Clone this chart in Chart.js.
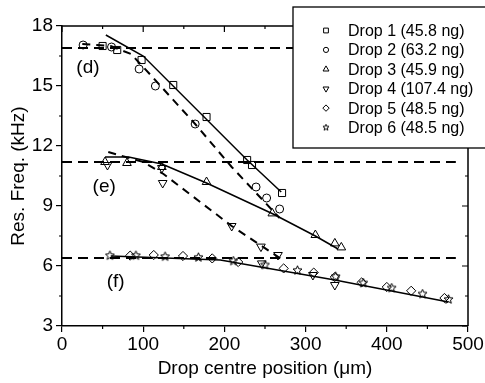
<!DOCTYPE html>
<html><head><meta charset="utf-8">
<script src="https://cdn.jsdelivr.net/npm/chart.js@4.4.1/dist/chart.umd.min.js"></script>
<style>html,body{margin:0;padding:0;background:#fff;}</style>
</head><body>
<canvas id="c" width="485" height="383"></canvas>
<script>
// ---- data ----
const drop1X = [50, 68, 98, 137, 178, 228, 234, 271];
const drop1Y = [17.0, 16.8, 16.3, 15.05, 13.45, 11.3, 11.05, 9.65];
const drop2X = [26, 61, 95, 115, 164, 239, 252, 268];
const drop2Y = [17.05, 16.95, 15.85, 15.0, 13.1, 9.95, 9.4, 8.85];
const drop3X = [53, 80, 123, 178, 259, 312, 336, 344];
const drop3Y = [11.2, 11.15, 10.95, 10.2, 8.63, 7.55, 7.13, 6.93];
const drop4X = [56, 123, 124, 209, 245, 266, 246, 309, 336];
const drop4Y = [11.05, 10.9, 10.15, 8.0, 6.97, 6.55, 6.13, 5.55, 5.05];
const drop5X = [84, 113, 149, 185, 217, 273, 310, 336, 369, 400, 430, 471];
const drop5Y = [6.52, 6.55, 6.5, 6.38, 6.2, 5.88, 5.67, 5.45, 5.18, 4.95, 4.76, 4.4];
const drop6X = [59, 91, 127, 168, 211, 250, 290, 337, 371, 406, 444, 476];
const drop6Y = [6.52, 6.52, 6.47, 6.43, 6.25, 6.05, 5.78, 5.47, 5.15, 4.9, 4.6, 4.33];

const fitDSolidX = [54, 100, 228, 270];
const fitDSolidY = [17.55, 16.5, 11.3, 9.7];
const fitDDashX = [25, 60, 85, 108, 164, 209, 268];
const fitDDashY = [17.1, 17.0, 16.6, 15.6, 13.1, 10.95, 8.4];
const fitESolidX = [53, 82, 123, 178, 260, 312, 340];
const fitESolidY = [11.45, 11.45, 11.1, 10.15, 8.6, 7.5, 6.85];
const fitEDashX = [57, 100, 125, 209, 270];
const fitEDashY = [11.7, 11.2, 10.6, 8.0, 6.35];
const fitFSolidX = [60, 195, 336, 476];
const fitFSolidY = [6.5, 6.3, 5.3, 4.2];

const refLevels = [16.9, 11.2, 6.4];
const refSpanX = [0, 485];

const legendLabels = ['Drop 1 (45.8 ng)', 'Drop 2 (63.2 ng)', 'Drop 3 (45.9 ng)',
                      'Drop 4 (107.4 ng)', 'Drop 5 (48.5 ng)', 'Drop 6 (48.5 ng)'];
const groupLabels = ['(d)', '(e)', '(f)'];
const groupLabelX = [32, 52, 66];
const groupLabelY = [15.9, 9.95, 5.2];

const xTicks = [0, 100, 200, 300, 400, 500];
const yTicks = [3, 6, 9, 12, 15, 18];
const xMinor = [50, 150, 250, 350, 450];
const yMinor = [4.5, 7.5, 10.5, 13.5, 16.5];

const FONT = '"Liberation Sans", Arial, sans-serif';

function zip(xs, ys){ return xs.map((x,i)=>({x:x, y:ys[i]})); }

function makeStar(size){
  const c = document.createElement('canvas');
  c.width = size; c.height = size;
  const g = c.getContext('2d');
  const cx = size/2, cy = size/2, R = size/2 - 0.8, r = R*0.45;
  g.beginPath();
  for (let i=0;i<10;i++){
    const a = -Math.PI/2 + i*Math.PI/5;
    const rr = (i%2===0)?R:r;
    const px = cx + rr*Math.cos(a), py = cy + rr*Math.sin(a);
    if (i===0) g.moveTo(px,py); else g.lineTo(px,py);
  }
  g.closePath();
  g.lineWidth = 1; g.strokeStyle = '#000'; g.stroke();
  return c;
}
const starBig = makeStar(11);
const starSmall = makeStar(8);

const markerStyles = [
  {pointStyle:'rect', rotation:0, radius:5, legendRadius:3.4},
  {pointStyle:'circle', rotation:0, radius:4, legendRadius:2.6},
  {pointStyle:'triangle', rotation:0, radius:5, legendRadius:3.4},
  {pointStyle:'triangle', rotation:180, radius:5, legendRadius:3.4},
  {pointStyle:'rectRot', rotation:0, radius:4.6, legendRadius:3.2},
  {pointStyle:starBig, rotation:0, radius:5, legendRadius:4}
];
const dropXs = [drop1X, drop2X, drop3X, drop4X, drop5X, drop6X];
const dropYs = [drop1Y, drop2Y, drop3Y, drop4Y, drop5Y, drop6Y];

const datasets = [];
function lineSet(xs, ys, dash, width){
  return {data: zip(xs, ys), showLine:true, borderColor:'#000', borderWidth:width,
          borderDash: dash, pointRadius:0, pointHoverRadius:0, fill:false, tension:0};
}
datasets.push(lineSet(fitDSolidX, fitDSolidY, [], 1.5));
datasets.push(lineSet(fitDDashX, fitDDashY, [8,6], 2));
datasets.push(lineSet(fitESolidX, fitESolidY, [], 1.5));
datasets.push(lineSet(fitEDashX, fitEDashY, [8,6], 2));
datasets.push(lineSet(fitFSolidX, fitFSolidY, [], 1.5));
refLevels.forEach(v => datasets.push(lineSet(refSpanX, [v, v], [10,6], 2)));
for (let i=0;i<6;i++){
  const m = markerStyles[i];
  datasets.push({label: legendLabels[i], data: zip(dropXs[i], dropYs[i]), showLine:false,
    pointStyle: m.pointStyle, rotation: m.rotation, pointRadius: m.radius,
    pointBorderColor:'#000', pointBackgroundColor:'rgba(0,0,0,0)', pointBorderWidth:1,
    borderColor:'#000', backgroundColor:'rgba(0,0,0,0)'});
}

const decor = {
  id: 'decor',
  afterDraw(chart){
    const ctx = chart.ctx, a = chart.chartArea;
    const xs = chart.scales.x, ys = chart.scales.y;
    ctx.save();
    ctx.strokeStyle = '#000'; ctx.lineWidth = 1.5;
    // top & right axis lines
    ctx.beginPath();
    ctx.moveTo(a.left, a.top); ctx.lineTo(a.right, a.top); ctx.lineTo(a.right, a.bottom);
    ctx.stroke();
    ctx.lineWidth = 1.2;
    ctx.beginPath();
    xTicks.forEach(v=>{ const p = xs.getPixelForValue(v); ctx.moveTo(p, a.top); ctx.lineTo(p, a.top+6); });
    xMinor.forEach(v=>{ const p = xs.getPixelForValue(v);
      ctx.moveTo(p, a.top); ctx.lineTo(p, a.top+3);
      ctx.moveTo(p, a.bottom); ctx.lineTo(p, a.bottom+3); });
    yTicks.forEach(v=>{ const p = ys.getPixelForValue(v); ctx.moveTo(a.right, p); ctx.lineTo(a.right-6, p); });
    yMinor.forEach(v=>{ const p = ys.getPixelForValue(v);
      ctx.moveTo(a.right, p); ctx.lineTo(a.right-3, p);
      ctx.moveTo(a.left, p); ctx.lineTo(a.left-3, p); });
    ctx.stroke();
    // group labels
    ctx.fillStyle = '#000';
    ctx.font = '19px ' + FONT;
    ctx.textAlign = 'center'; ctx.textBaseline = 'middle';
    groupLabels.forEach((t,i)=>{
      ctx.fillText(t, xs.getPixelForValue(groupLabelX[i]), ys.getPixelForValue(groupLabelY[i]));
    });
    // legend box
    const bx = 293, by = 7, bw = 200, bh = 141;
    ctx.fillStyle = '#fff';
    ctx.fillRect(bx, by, bw, bh);
    ctx.lineWidth = 1.3; ctx.strokeStyle = '#000';
    ctx.strokeRect(bx, by, bw, bh);
    ctx.font = '16px ' + FONT;
    ctx.textAlign = 'left'; ctx.textBaseline = 'middle';
    for (let i=0;i<6;i++){
      const yy = 30.5 + i*19.4;
      const m = markerStyles[i];
      ctx.lineWidth = 1; ctx.strokeStyle = '#000'; ctx.fillStyle = 'rgba(0,0,0,0)';
      if (i === 5) {
        ctx.drawImage(starSmall, 326 - starSmall.width/2, yy - starSmall.height/2);
      } else if (Chart.helpers && Chart.helpers.drawPoint) {
        Chart.helpers.drawPoint(ctx, {pointStyle: m.pointStyle, rotation: m.rotation,
          radius: m.legendRadius, borderWidth: 1}, 326, yy);
      }
      ctx.fillStyle = '#000';
      ctx.fillText(legendLabels[i], 348, yy + 1);
    }
    ctx.restore();
  }
};

new Chart(document.getElementById('c'), {
  type: 'scatter',
  data: { datasets: datasets },
  options: {
    responsive: false, animation: false, devicePixelRatio: 1,
    layout: { padding: { left: 0, right: 17, top: 26, bottom: 0 } },
    plugins: { legend: { display: false }, tooltip: { enabled: false } },
    scales: {
      x: {
        type: 'linear', min: 0, max: 500,
        afterBuildTicks: s => { s.ticks = xTicks.map(v=>({value:v})); },
        afterFit: s => { s.height = 57; },
        grid: { display: true, drawOnChartArea: false, color: '#000', tickColor:'#000', tickLength: 6, lineWidth: 1.2 },
        border: { display: true, color: '#000', width: 1.5 },
        ticks: { color: '#000', font: { family: FONT, size: 19 }, padding: 1, maxRotation: 0 },
        title: { display: true, text: 'Drop centre position (μm)', color: '#000',
                 font: { family: FONT, size: 19 }, padding: { top: 0, bottom: 3 } }
      },
      y: {
        type: 'linear', min: 3, max: 18,
        afterBuildTicks: s => { s.ticks = yTicks.map(v=>({value:v})); },
        afterFit: s => { s.width = 62; },
        grid: { display: true, drawOnChartArea: false, color: '#000', tickColor:'#000', tickLength: 6, lineWidth: 1.2 },
        border: { display: true, color: '#000', width: 1.5 },
        ticks: { color: '#000', font: { family: FONT, size: 19 }, padding: 3 },
        title: { display: true, text: 'Res. Freq. (kHz)', color: '#000',
                 font: { family: FONT, size: 19 }, padding: { top: 7, bottom: 0 } }
      }
    }
  },
  plugins: [decor]
});
</script>
</body></html>
